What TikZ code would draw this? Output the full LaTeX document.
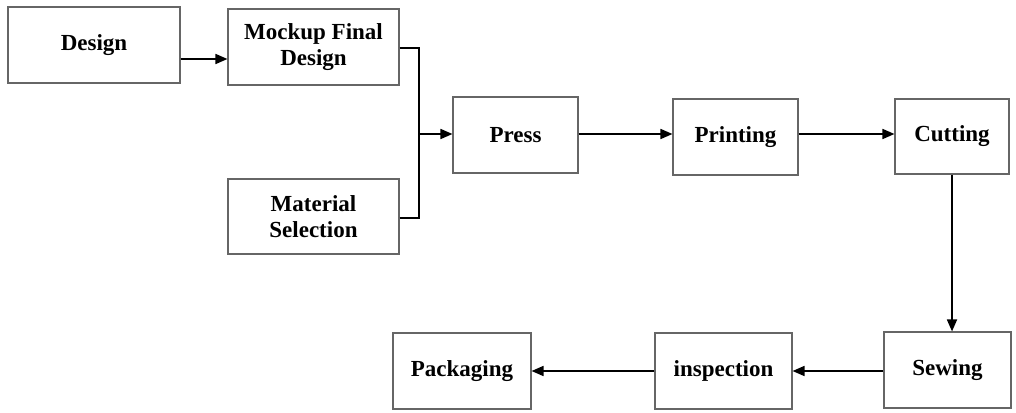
\documentclass[tikz,border=0pt]{standalone}
\usepackage{fontspec}
\setmainfont{Liberation Serif}
\usetikzlibrary{arrows.meta}
\begin{document}
\begin{tikzpicture}[x=1pt,y=-1pt,
  box/.style={draw=black!60, line width=1.1pt, fill=white, inner sep=0pt, align=center,
    font=\fontsize{23}{25.5}\selectfont\bfseries},
  arr/.style={line width=1.7pt, -{Triangle[length=12pt,width=10pt]}},
  ln/.style={line width=1.7pt}]
\useasboundingbox (0,0) rectangle (1016,412);
\node[box, minimum width=172pt, minimum height=76pt] (design) at (94,45) {Design};
\node[box, minimum width=171pt, minimum height=76pt] (mock) at (313.5,47) {Mockup Final\\Design};
\node[box, minimum width=171pt, minimum height=75pt] (mat) at (313.5,216.5) {Material\\Selection};
\node[box, minimum width=125pt, minimum height=76pt] (press) at (515.5,135) {Press};
\node[box, minimum width=125pt, minimum height=76pt] (print) at (735.5,137) {Printing};
\node[box, minimum width=114pt, minimum height=75pt] (cut) at (952,136.5) {Cutting};
\node[box, minimum width=127pt, minimum height=76pt] (sew) at (947.5,370) {Sewing};
\node[box, minimum width=137pt, minimum height=76pt] (insp) at (723.5,371) {inspection};
\node[box, minimum width=138pt, minimum height=76pt] (pack) at (462,371) {Packaging};
\coordinate (j) at (419,134);
\draw[arr] (design.east |- 0,59) -- (mock.west |- 0,59);
\draw[ln] (mock.east |- 0,48) -| (j);
\draw[ln] (mat.east |- 0,218) -| (j);
\draw[arr] (j) -- (press.west |- j);
\draw[arr] (press.east |- 0,134) -- (print.west |- 0,134);
\draw[arr] (print.east |- 0,134) -- (cut.west |- 0,134);
\draw[arr] (cut.south) -- (sew.north -| cut.south);
\draw[arr] (sew.west |- 0,371) -- (insp.east |- 0,371);
\draw[arr] (insp.west |- 0,371) -- (pack.east |- 0,371);
\end{tikzpicture}
\end{document}
